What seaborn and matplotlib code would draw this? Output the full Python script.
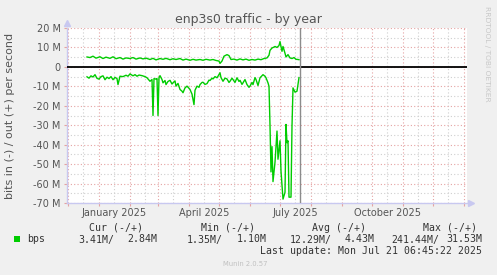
import matplotlib
matplotlib.use("Agg")
import matplotlib.pyplot as plt
import matplotlib.dates as mdates
from matplotlib.ticker import MultipleLocator, FuncFormatter
from matplotlib.patches import Rectangle
import pandas as pd
import seaborn as sns

# ---------------- data (values in Mbit/s) ----------------
base_date = "2024-12-01"
last_update = "2025-07-21 06:45:22"

out_day = [19, 22, 25, 28, 32, 35, 38, 42, 45, 48, 52, 55, 58, 62, 65, 68, 72, 75, 78, 82,
           85, 88, 92, 95, 98, 102, 105, 108, 112, 115, 118, 122, 125, 128, 132, 135, 138, 142,
           145, 148, 151, 152, 154, 156, 159, 161, 163, 166, 169, 172, 175, 178, 181, 184, 187,
           190, 193, 196, 199, 201, 202, 204, 206, 207, 209, 211, 212, 214, 215, 217, 218, 220,
           222, 224, 226, 228, 230, 231]
out_mbps = [5.1, 4.8, 5.5, 4.5, 5.2, 4.3, 5.0, 4.4, 5.2, 4.2, 4.8, 4.0, 4.6, 4.3, 4.8, 4.0, 4.6,
            4.1, 4.5, 3.8, 4.4, 3.6, 4.3, 3.9, 4.4, 3.7, 4.2, 3.8, 4.3, 3.5, 4.0, 3.4, 3.9, 3.5,
            3.8, 3.4, 3.9, 3.5, 3.8, 3.3, 3.0, 1.8, 3.0, 5.5, 6.3, 5.8, 3.8, 4.0, 3.5, 4.1, 3.6,
            4.0, 3.4, 3.8, 3.5, 4.0, 3.7, 4.3, 4.6, 6.0, 8.5, 9.7, 10.2, 10.5, 10.0, 11.0, 13.0,
            8.0, 10.5, 7.0, 5.1, 6.3, 4.6, 4.3, 4.8, 3.9, 3.8, 3.7]

in_day = [19, 21, 23, 25, 27, 29, 31, 33, 35, 37, 39, 41, 43, 45, 47, 49, 50, 52, 55, 58, 60,
          62, 65, 67, 69, 71, 74, 77, 79, 82, 84, 85, 86, 88, 89, 90, 91, 92, 94, 95, 97, 98,
          100, 102, 104, 105, 107, 108, 110, 112, 114, 115, 117, 119, 121, 122, 124, 126, 127,
          129, 131, 132, 134, 135, 137, 139, 141, 142, 144, 145, 147, 149, 150, 152, 153, 155,
          157, 159, 161, 162, 164, 165, 167, 169, 171, 172, 174, 175, 177, 179, 181, 182, 184,
          185, 187, 188, 190, 192, 195, 197, 198, 200, 201, 202, 203, 204, 205, 207, 209, 210,
          212, 213, 215, 217, 218, 219, 220, 221, 223, 224, 225, 227, 229, 231]
in_mbps = [-5.1, -5.8, -4.6, -5.2, -4.0, -5.9, -6.3, -5.0, -4.6, -6.6, -5.3, -6.0, -5.0, -6.6,
           -5.4, -6.0, -9.1, -4.8, -5.0, -4.3, -4.8, -3.6, -4.6, -4.0, -4.8, -4.2, -4.5, -5.0,
           -5.6, -7.4, -6.5, -25.0, -6.0, -6.3, -6.0, -25.0, -5.6, -4.5, -6.5, -8.2, -7.0, -9.1,
           -7.5, -6.9, -8.8, -8.2, -7.2, -9.9, -8.5, -11.6, -12.5, -13.3, -10.8, -9.9, -11.0,
           -11.6, -14.0, -19.4, -12.0, -9.9, -10.5, -9.1, -8.0, -7.9, -9.0, -8.6, -6.8, -7.0,
           -5.8, -6.2, -5.0, -5.6, -4.8, -3.0, -5.5, -7.4, -5.8, -6.2, -8.0, -7.4, -5.8, -6.5,
           -8.0, -5.6, -7.5, -6.9, -9.0, -8.2, -6.5, -9.1, -10.5, -9.9, -8.0, -9.1, -5.5, -6.5,
           -9.6, -5.6, -4.0, -4.8, -5.6, -8.2, -10.0, -30.0, -54.0, -41.0, -59.0, -49.0, -33.0,
           -47.5, -38.0, -53.6, -68.0, -64.5, -29.6, -39.0, -38.0, -67.0, -67.0, -30.5, -10.8,
           -13.0, -12.5, -5.5]

title = "enp3s0 traffic - by year"
y_label = "bits in (-) / out (+) per second"
legend_name = "bps"
stat_headers = ["Cur (-/+)", "Min (-/+)", "Avg (-/+)", "Max (-/+)"]
stat_values = [("3.41M/", "2.84M"), ("1.35M/", "1.10M"), ("12.29M/", "4.43M"), ("241.44M/", "31.53M")]
update_text = "Last update: Mon Jul 21 06:45:22 2025"
footer_text = "Munin 2.0.57"
side_text = "RRDTOOL / TOBI OETIKER"

# ---------------- build frames ----------------
base = pd.Timestamp(base_date)
df_out = pd.DataFrame({"date": base + pd.to_timedelta(out_day, unit="D"), "bps": out_mbps})
df_in = pd.DataFrame({"date": base + pd.to_timedelta(in_day, unit="D"), "bps": in_mbps})

W, H = 497, 275
fig = plt.figure(figsize=(W / 100, H / 100), dpi=100, facecolor="#f0f0f0")
ax = fig.add_axes([67 / W, 72 / H, 400 / W, 175 / H])
ax.set_facecolor("white")


def fx(x):
    return x / W


def fy(y):
    return 1 - y / H


GREEN = "#00cc00"
MAJ = "#e5a3a3"
MINC = "#cfcfcf"

sns.lineplot(data=df_out, x="date", y="bps", ax=ax, color=GREEN, lw=1.0,
             estimator=None, sort=False, legend=False, zorder=5)
sns.lineplot(data=df_in, x="date", y="bps", ax=ax, color=GREEN, lw=1.0,
             estimator=None, sort=False, legend=False, zorder=5)

ax.set_xlim(base - pd.Timedelta(days=1), base + pd.Timedelta(days=399))
ax.set_ylim(-70, 20)

# y axis
ax.yaxis.set_major_locator(MultipleLocator(10))
ax.yaxis.set_minor_locator(MultipleLocator(5))
ax.yaxis.set_major_formatter(FuncFormatter(lambda v, p: "0" if abs(v) < 1e-9 else f"{int(round(v))} M"))

# x axis
ax.xaxis.set_major_locator(mdates.MonthLocator(bymonthday=1))
ax.xaxis.set_major_formatter(FuncFormatter(lambda v, p: ""))
ax.xaxis.set_minor_locator(mdates.MonthLocator(bymonthday=16))


def xfmt(v, p):
    d = mdates.num2date(v)
    return d.strftime("%B %Y") if d.month in (1, 4, 7, 10) else ""


ax.xaxis.set_minor_formatter(FuncFormatter(xfmt))

ax.grid(which="major", color=MAJ, linestyle=(0, (1, 2)), lw=0.8, zorder=1)
ax.grid(which="minor", color=MINC, linestyle=(0, (1, 2)), lw=0.8, zorder=1)
ax.set_axisbelow(True)

ax.tick_params(axis="y", which="major", length=2, color=MAJ, labelsize=7, labelcolor="#555555", pad=2.5)
ax.tick_params(axis="y", which="minor", length=0)
ax.tick_params(axis="x", which="major", length=2, color=MAJ, pad=0)
ax.tick_params(axis="x", which="minor", length=0, labelsize=7, labelcolor="#555555", pad=3.5)

ax.set_xlabel("")
ax.set_ylabel("")
for s in ["top", "right"]:
    ax.spines[s].set_visible(False)
for s in ["left", "bottom"]:
    ax.spines[s].set_color("#c8c8f0")
    ax.spines[s].set_linewidth(1.0)

# zero line and "now" line
ax.axhline(0, color="black", lw=1.3, zorder=4)
ax.axvline(pd.Timestamp(last_update), color="#8c8c8c", lw=1.0, zorder=6)

# axis arrows
ax.plot([0], [1 + 5 / 175], marker="^", color="#c8c8f0", markersize=4, transform=ax.transAxes, clip_on=False)
ax.plot([1 + 4 / 400], [0], marker=">", color="#c8c8f0", markersize=4, transform=ax.transAxes, clip_on=False)

# texts
fig.text(fx(248), fy(23), title, ha="center", va="baseline", fontsize=9, color="#555555")
fig.text(fx(10.5), fy(115.5), y_label, rotation=90, ha="center", va="center", fontsize=8, color="#555555")
fig.text(fx(487), fy(53.5), side_text, rotation=270, ha="center", va="center", fontsize=5.4, color="#c8c8c8")

mono = "DejaVu Sans Mono"
LS = 7.13
LC = "#333333"
header_x = [89.3, 201, 312.3, 423]
for hx, h in zip(header_x, stat_headers):
    fig.text(fx(hx), fy(228), h, ha="left", va="center", fontsize=LS, family=mono, color=LC)

fig.patches.append(Rectangle((fx(14), fy(242)), 6 / W, 6 / H, transform=fig.transFigure,
                             facecolor=GREEN, edgecolor="none"))
fig.text(fx(26.7), fy(239.5), legend_name, ha="left", va="center", fontsize=LS, family=mono, color=LC)

left_x = [78.3, 186.7, 289.3, 391.7]
right_end = [157.7, 266.7, 375, 482.3]
for lx, rx, (a, b) in zip(left_x, right_end, stat_values):
    fig.text(fx(lx), fy(239.5), a, ha="left", va="center", fontsize=LS, family=mono, color=LC)
    fig.text(fx(rx), fy(239.5), b, ha="right", va="center", fontsize=LS, family=mono, color=LC)

fig.text(fx(482.3), fy(251.5), update_text, ha="right", va="center", fontsize=LS, family=mono, color=LC)
fig.text(fx(245.3), fy(264), footer_text, ha="center", va="center", fontsize=4.9, color="#c0c0c0")

fig.savefig("out.png", dpi=100, facecolor=fig.get_facecolor())
